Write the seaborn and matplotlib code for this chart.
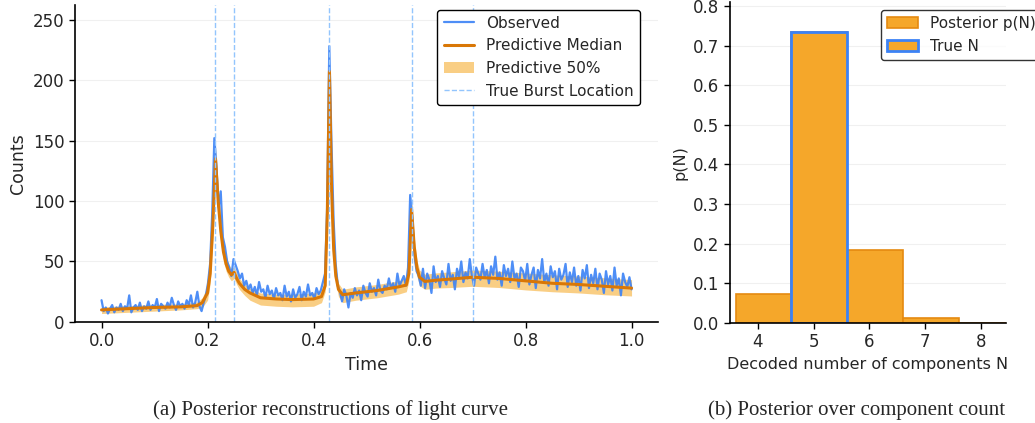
import numpy as np
import matplotlib.pyplot as plt
import seaborn as sns

# observed light curve (250 bins over [0, 1])
observed = [
    18, 9, 12, 7, 11, 14, 8, 12, 10, 15,
    9, 13, 11, 22, 8, 12, 14, 10, 16, 9,
    13, 11, 17, 10, 14, 12, 19, 9, 15, 13,
    11, 16, 12, 20, 14, 10, 17, 13, 15, 11,
    18, 14, 22, 12, 16, 25, 13, 9, 16, 22,
    32, 48, 90, 152, 128, 95, 108, 70, 62, 50,
    45, 38, 52, 47, 42, 36, 40, 30, 34, 27,
    31, 24, 29, 22, 33, 25, 27, 20, 30, 23,
    26, 19, 28, 22, 24, 18, 30, 21, 25, 17,
    27, 20, 23, 29, 18, 25, 21, 31, 22, 24,
    19, 28, 23, 26, 33, 40, 95, 228, 150, 85,
    48, 30, 25, 17, 27, 22, 12, 24, 20, 28,
    22, 26, 18, 30, 24, 21, 32, 25, 28, 22,
    35, 26, 24, 30, 27, 36, 28, 32, 25, 40,
    30, 34, 38, 30, 45, 105, 85, 55, 42, 38,
    30, 44, 28, 40, 35, 24, 46, 33, 38, 29,
    42, 36, 31, 48, 34, 39, 27, 44, 37, 50,
    33, 41, 36, 52, 38, 30, 45, 40, 35, 48,
    37, 43, 32, 46, 39, 54, 35, 41, 30, 47,
    38, 44, 33, 50, 36, 40, 29, 45, 42, 34,
    48, 31, 39, 45, 28, 43, 36, 52, 33, 40,
    30, 46, 37, 42, 27, 44, 35, 39, 48, 29,
    41, 33, 45, 30, 38, 26, 43, 36, 47, 28,
    39, 32, 44, 27, 40, 35, 24, 42, 31, 38,
    26, 45, 30, 36, 22, 40, 33, 29, 37, 27,
]
time_obs = np.linspace(0, 1, len(observed))

# posterior predictive median and 50% band
time_pred = [0.0, 0.05, 0.10, 0.15, 0.18, 0.19, 0.20, 0.205, 0.21, 0.215,
             0.22, 0.225, 0.23, 0.235, 0.24, 0.245, 0.25, 0.255, 0.26, 0.27,
             0.28, 0.30, 0.33, 0.36, 0.40, 0.415, 0.422, 0.426, 0.43, 0.434,
             0.438, 0.442, 0.447, 0.455, 0.48, 0.52, 0.56, 0.575, 0.58, 0.585,
             0.59, 0.595, 0.60, 0.61, 0.63, 0.66, 0.70, 0.75, 0.80, 0.85,
             0.90, 0.95, 1.0]
pred_median = [10, 11, 12, 12.5, 13.5, 16, 24, 40, 80, 135,
               100, 75, 58, 48, 42, 39, 41, 36, 32, 27,
               24, 20, 19, 18.5, 19, 21, 30, 90, 207, 110,
               60, 38, 27, 22.5, 24, 26, 29, 30.5, 40, 93,
               62, 45, 37, 33.5, 34.5, 35.5, 37, 36, 34, 32,
               31, 29.5, 28]
pred_lo = [7, 8, 9, 10, 11, 12, 18, 32, 68, 122,
           88, 65, 50, 42, 37, 34, 36, 31, 27, 22,
           18, 14, 13, 12.5, 13, 16, 25, 80, 196, 100,
           52, 32, 21, 16, 18, 20, 23, 25, 34, 85,
           54, 38, 30, 27, 28, 28.5, 29.5, 28.5, 26.5, 25,
           24, 22.5, 21.5]
pred_hi = [12.5, 13.5, 14.5, 15, 16.5, 20, 30, 48, 95, 145,
           112, 85, 66, 55, 48, 44, 46, 41, 36, 31,
           28, 24, 23, 23, 24, 26, 36, 100, 216, 120,
           68, 44, 32, 27, 29, 31, 34, 36, 46, 101,
           70, 51, 43, 39.5, 40.5, 41.5, 43, 42, 40.5, 39,
           38, 36.5, 35]
burst_locs = [0.215, 0.25, 0.43, 0.585, 0.70]

# posterior over number of components
n_comp = [4, 5, 6, 7, 8]
p_n = [0.072, 0.735, 0.183, 0.012, 0.001]
true_n = 5

blue = "#3b82f6"
orange = "#d97706"
amber = "#f59e0b"
bar_fill = "#f5a72a"
bar_edge = "#e58a10"

sns.set_theme(style="ticks")
plt.rcParams["font.family"] = ["DejaVu Sans"]

fig = plt.figure(figsize=(10.35, 4.23), dpi=100)
ax1 = fig.add_axes([0.0725, 0.2388, 0.5633, 0.7494])
ax2 = fig.add_axes([0.7053, 0.2364, 0.2667, 0.759])

# (a) light curve
ax1.fill_between(time_pred, pred_lo, pred_hi, color=amber, alpha=0.5, lw=0,
                 label="Predictive 50%")
sns.lineplot(x=time_obs, y=observed, ax=ax1, color=blue, alpha=0.9, lw=1.6,
             label="Observed")
sns.lineplot(x=time_pred, y=pred_median, ax=ax1, color=orange, lw=2.2,
             label="Predictive Median")
for i, b in enumerate(burst_locs):
    ax1.axvline(b, color="#93c5fd", ls="--", lw=1,
                label="True Burst Location" if i == 0 else None)
ax1.set_xlim(-0.05, 1.05)
ax1.set_ylim(0, 262)
ax1.set_xticks([0.0, 0.2, 0.4, 0.6, 0.8, 1.0])
ax1.set_yticks([0, 50, 100, 150, 200, 250])
ax1.set_xlabel("Time", fontsize=12.5)
ax1.set_ylabel("Counts", fontsize=12.5)
ax1.yaxis.grid(True, color="#f0f0f0", lw=0.8)
ax1.set_axisbelow(True)
h, l = ax1.get_legend_handles_labels()
order = [l.index(s) for s in ["Observed", "Predictive Median", "Predictive 50%",
                              "True Burst Location"]]
leg = ax1.legend([h[i] for i in order], [l[i] for i in order], loc="upper right",
                 bbox_to_anchor=(0.977, 1.0), fontsize=11, frameon=True,
                 fancybox=True, borderaxespad=0.3)
leg.get_frame().set_edgecolor("black")
leg.get_frame().set_linewidth(1.0)
leg.get_frame().set_alpha(1)

# (b) component count
left = np.array(n_comp) - 0.4
ax2.bar(left, p_n, width=1.0, align="edge", color=bar_fill,
        edgecolor=bar_edge, lw=1.2, label="Posterior p(N)")
k = n_comp.index(true_n)
ax2.bar(left[k], p_n[k], width=1.0, align="edge", facecolor=bar_fill,
        edgecolor=blue, lw=2, label="True N")
ax2.set_xlim(3.5, 8.45)
ax2.set_ylim(0, 0.81)
ax2.set_xticks(n_comp)
ax2.set_yticks(np.arange(0, 0.81, 0.1))
ax2.set_xlabel("Decoded number of components N", fontsize=11.5)
ax2.set_ylabel("p(N)", fontsize=11.5)
ax2.yaxis.grid(True, color="#f0f0f0", lw=0.8)
ax2.set_axisbelow(True)
leg2 = ax2.legend(loc="upper right", bbox_to_anchor=(1.13, 0.975), fontsize=11,
                  frameon=True, borderaxespad=0.0)
leg2.get_frame().set_edgecolor("black")
leg2.get_frame().set_linewidth(1.0)

for ax in (ax1, ax2):
    sns.despine(ax=ax)
    ax.tick_params(labelsize=12, length=4, width=1, color="black")
    for s in ("left", "bottom"):
        ax.spines[s].set_color("black")
        ax.spines[s].set_linewidth(1.2)

fig.text(0.319, 0.031, "(a) Posterior reconstructions of light curve",
         ha="center", va="center", fontsize=15, family="Liberation Serif")
fig.text(0.828, 0.031, "(b) Posterior over component count",
         ha="center", va="center", fontsize=15, family="Liberation Serif")

fig.savefig("out.png", dpi=100)
